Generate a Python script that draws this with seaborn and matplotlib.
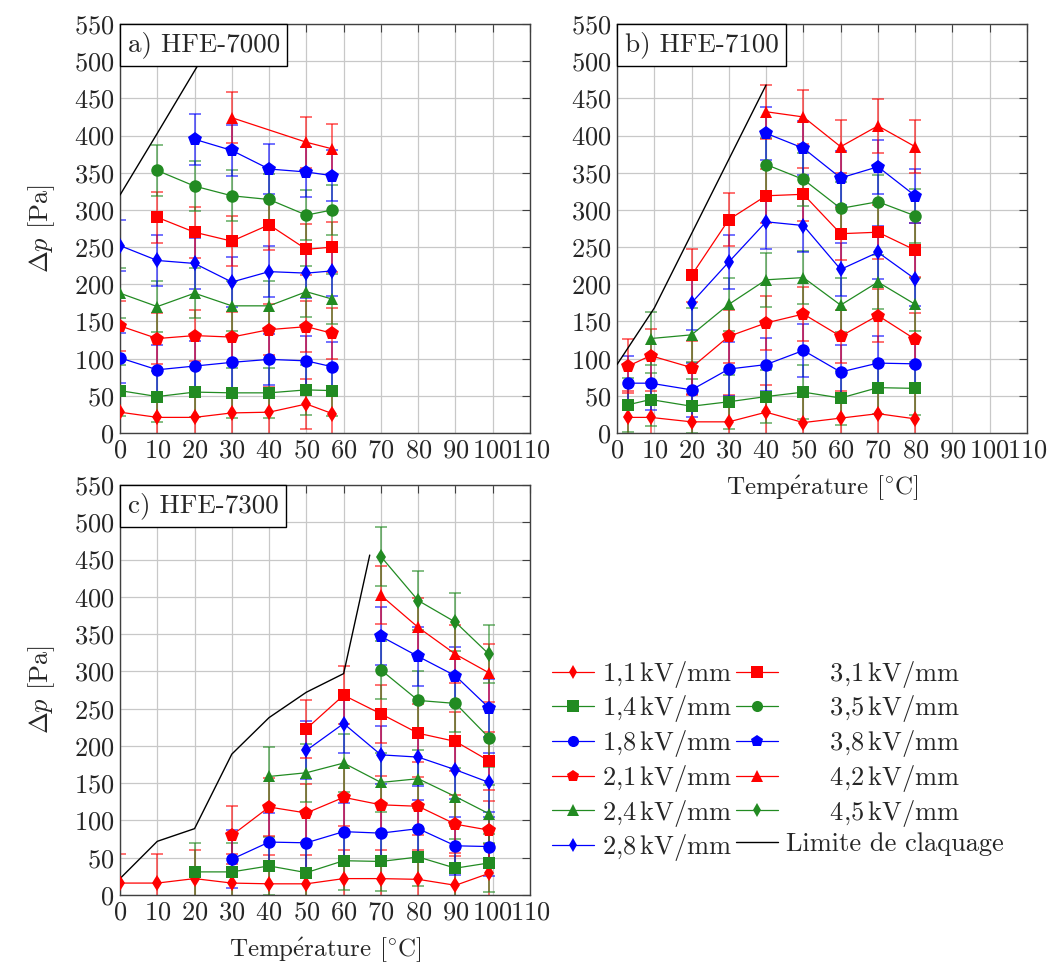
import matplotlib
matplotlib.use('Agg')
import matplotlib.pyplot as plt
import seaborn as sns
from matplotlib.lines import Line2D
from matplotlib.offsetbox import AnchoredText

sns.set_style('white')
plt.rcParams['font.family'] = ['cmr10', 'DejaVu Serif']
plt.rcParams['mathtext.fontset'] = 'cm'
plt.rcParams['axes.formatter.use_mathtext'] = True

# champs electriques (kV/mm)
fields = ['1,1', '1,4', '1,8', '2,1', '2,4', '2,8', '3,1', '3,5', '3,8', '4,2', '4,5']

# a) HFE-7000
a_x = [0, 10, 20, 30, 40, 50, 57]
a_11 = [28, 21, 21, 27, 28, 39, 26]
a_14 = [57, 49, 55, 54, 54, 58, 57]
a_18 = [101, 85, 90, 95, 99, 97, 89]
a_21 = [144, 127, 131, 129, 139, 143, 134]
a_24 = [188, 170, 188, 171, 171, 190, 180]
a_28 = [252, 232, 228, 203, 217, 215, 218]
a_x31 = [10, 20, 30, 40, 50, 57]
a_31 = [290, 270, 258, 280, 247, 250]
a_35 = [353, 332, 319, 314, 293, 300]
a_x38 = [20, 30, 40, 50, 57]
a_38 = [395, 380, 355, 351, 346]
a_x42 = [30, 50, 57]
a_42 = [424, 391, 382]
a_lim_x = [0, 10, 20, 30]
a_lim = [320, 403, 487, 570]
a_err = 34

# b) HFE-7100
b_x = [3, 9, 20, 30, 40, 50, 60, 70, 80]
b_11 = [21, 21, 15, 15, 28, 14, 20, 26, 19]
b_14 = [38, 45, 36, 42, 49, 55, 47, 61, 60]
b_18 = [67, 67, 58, 86, 92, 111, 82, 94, 93]
b_21 = [90, 104, 88, 130, 148, 160, 130, 158, 126]
b_x24 = [9, 20, 30, 40, 50, 60, 70, 80]
b_24 = [127, 132, 173, 206, 209, 172, 203, 173]
b_x28 = [20, 30, 40, 50, 60, 70, 80]
b_28 = [175, 230, 284, 279, 220, 243, 207]
b_31 = [212, 287, 319, 321, 268, 270, 246]
b_x35 = [40, 50, 60, 70, 80]
b_35 = [361, 341, 302, 311, 292]
b_38 = [403, 383, 343, 358, 319]
b_42 = [432, 425, 385, 413, 385]
b_lim_x = [0, 10, 20, 30, 40]
b_lim = [92, 168, 268, 368, 468]
b_err = 36

# c) HFE-7300
c_x = [0, 10, 20, 30, 40, 50, 60, 70, 80, 90, 99]
c_11 = [16, 16, 22, 16, 15, 15, 22, 22, 21, 13, 29]
c_x14 = [20, 30, 40, 50, 60, 70, 80, 90, 99]
c_14 = [31, 31, 39, 30, 46, 45, 51, 36, 43]
c_x18 = [30, 40, 50, 60, 70, 80, 90, 99]
c_18 = [48, 71, 70, 85, 83, 89, 66, 65]
c_21 = [80, 118, 110, 131, 121, 119, 95, 87]
c_x24 = [40, 50, 60, 70, 80, 90, 99]
c_24 = [159, 164, 177, 151, 156, 132, 109]
c_x28 = [50, 60, 70, 80, 90, 99]
c_28 = [194, 230, 188, 185, 168, 151]
c_31 = [223, 268, 243, 217, 206, 180]
c_x35 = [70, 80, 90, 99]
c_35 = [302, 261, 257, 211]
c_38 = [347, 320, 294, 251]
c_42 = [402, 359, 323, 298]
c_45 = [454, 395, 366, 323]
c_lim_x = [0, 10, 20, 30, 40, 50, 60, 67]
c_lim = [22, 72, 89, 189, 238, 272, 297, 456]
c_err = 39

RED = '#ff0000'
GREEN = '#228b22'
BLUE = '#0000ff'
styles = {
    '1,1': (RED, 'd', 8), '1,4': (GREEN, 's', 9), '1,8': (BLUE, 'o', 9),
    '2,1': (RED, 'p', 10), '2,4': (GREEN, '^', 9), '2,8': (BLUE, 'd', 8),
    '3,1': (RED, 's', 9), '3,5': (GREEN, 'o', 9), '3,8': (BLUE, 'p', 10),
    '4,2': (RED, '^', 9), '4,5': (GREEN, 'd', 8),
}

panels = [
    ('a) HFE-7000', [('1,1', a_x, a_11), ('1,4', a_x, a_14), ('1,8', a_x, a_18),
                     ('2,1', a_x, a_21), ('2,4', a_x, a_24), ('2,8', a_x, a_28),
                     ('3,1', a_x31, a_31), ('3,5', a_x31, a_35), ('3,8', a_x38, a_38),
                     ('4,2', a_x42, a_42)], (a_lim_x, a_lim), a_err),
    ('b) HFE-7100', [('1,1', b_x, b_11), ('1,4', b_x, b_14), ('1,8', b_x, b_18),
                     ('2,1', b_x, b_21), ('2,4', b_x24, b_24), ('2,8', b_x28, b_28),
                     ('3,1', b_x28, b_31), ('3,5', b_x35, b_35), ('3,8', b_x35, b_38),
                     ('4,2', b_x35, b_42)], (b_lim_x, b_lim), b_err),
    ('c) HFE-7300', [('1,1', c_x, c_11), ('1,4', c_x14, c_14), ('1,8', c_x18, c_18),
                     ('2,1', c_x18, c_21), ('2,4', c_x24, c_24), ('2,8', c_x28, c_28),
                     ('3,1', c_x28, c_31), ('3,5', c_x35, c_35), ('3,8', c_x35, c_38),
                     ('4,2', c_x35, c_42), ('4,5', c_x35, c_45)], (c_lim_x, c_lim), c_err),
]

W, H = 1049, 972
fig = plt.figure(figsize=(W / 100, H / 100), dpi=100)
rects = [(120, 24, 410, 409), (617, 24, 410, 409), (120, 485, 410, 410)]
axes = [fig.add_axes([l / W, 1 - (t + h) / H, w / W, h / H]) for l, t, w, h in rects]

FS = 18
temp_label = r'Temp$\acute{\mathrm{e}}$rature [$^{\circ}$C]'

for i, (ax, (title, series, lim, err)) in enumerate(zip(axes, panels)):
    ax.grid(True, color='#c8c8c8', linewidth=0.9)
    ax.set_axisbelow(True)
    sns.lineplot(x=lim[0], y=lim[1], ax=ax, color='black', linewidth=1.0, zorder=3)
    for name, xs, ys in series:
        col, mk, ms = styles[name]
        ax.errorbar(xs, ys, yerr=err, fmt='none', ecolor=col, alpha=0.6,
                    capsize=4, elinewidth=1.3, capthick=1.3, zorder=2)
        sns.lineplot(x=xs, y=ys, ax=ax, color=col, marker=mk, markersize=ms,
                     markeredgewidth=0, linewidth=0.9, zorder=4)
    ax.set_xlim(0, 110)
    ax.set_ylim(0, 550)
    ax.set_xticks(range(0, 111, 10))
    ax.set_yticks(range(0, 551, 50))
    ax.tick_params(direction='in', top=True, right=True, length=6, width=0.8,
                   labelsize=FS + 1, pad=4, color='#404040')
    for sp in ax.spines.values():
        sp.set_color('#404040')
        sp.set_linewidth(1.0)
    at = AnchoredText(title, loc='upper left', borderpad=0, pad=0.28,
                      prop=dict(size=FS + 1.5), frameon=True)
    at.patch.set_boxstyle('square,pad=0')
    at.patch.set_linewidth(1.0)
    at.zorder = 6
    ax.add_artist(at)
    if i != 1:
        ax.set_ylabel(r'$\Delta p$ [Pa]', fontsize=FS + 1, labelpad=12)
    else:
        ax.set_ylabel('')
    if i != 0:
        ax.set_xlabel(temp_label, fontsize=FS, labelpad=8)
    else:
        ax.set_xlabel('')

handles = []
labels = []
for j, name in enumerate(fields):
    col, mk, ms = styles[name]
    handles.append(Line2D([], [], color=col, marker=mk, markersize=ms - 1,
                          markeredgewidth=0, linewidth=0.9))
    pad = '     ' if j >= 6 else ''
    labels.append(pad + name + r'$\,$kV/mm')
handles.append(Line2D([], [], color='black', linewidth=1.0))
labels.append('Limite de claquage')

fig.legend(handles, labels, ncol=2, loc='center', bbox_to_anchor=(778 / W, 1 - 761 / H),
           frameon=False, fontsize=FS + 1, handlelength=1.6, handletextpad=0.3,
           columnspacing=0.15, labelspacing=0.14, borderpad=0)

fig.savefig('out.png', dpi=100)
